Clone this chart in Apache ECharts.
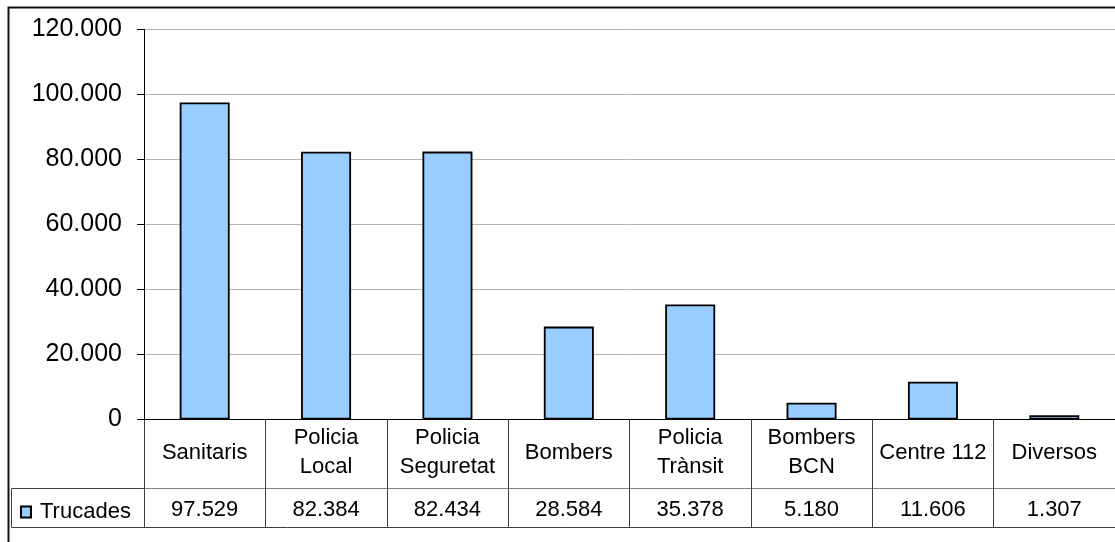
<!DOCTYPE html>
<html>
<head>
<meta charset="utf-8">
<script src="https://cdn.jsdelivr.net/npm/echarts@6/dist/echarts.min.js"></script>
<style>
html,body{margin:0;padding:0;background:#fff;}
#c{width:1115px;height:542px;}
</style>
</head>
<body>
<div id="c"></div>
<script>
const categories = ['Sanitaris', 'Policia\nLocal', 'Policia\nSeguretat', 'Bombers', 'Policia\nTrànsit', 'Bombers\nBCN', 'Centre 112', 'Diversos'];
const seriesName = 'Trucades';
const values = [97529, 82384, 82434, 28584, 35378, 5180, 11606, 1307];
const yMin = 0, yMax = 120000, yStep = 20000;

function fmt(v) {
  return String(v).replace(/\B(?=(\d{3})+(?!\d))/g, '.');
}
const valueLabels = values.map(fmt);

const FONT = '"Liberation Sans", Arial, sans-serif';
const TABLE_LINE = '#404040';
const chart = echarts.init(document.getElementById('c'));
chart.setOption({
  animation: false,
  backgroundColor: '#fff',
  grid: { left: 144, top: 29.5, width: 982, height: 390, containLabel: false },
  legend: {
    data: [seriesName],
    left: 15, top: 496,
    itemWidth: 10, itemHeight: 11,
    icon: 'rect',
    textStyle: { fontFamily: FONT, fontSize: 22, color: '#000', padding: [0, 0, 0, 4] },
    selectedMode: false
  },
  xAxis: [
    {
      type: 'category', data: categories, position: 'bottom',
      axisLine: { show: true, lineStyle: { color: '#000', width: 1 } },
      axisTick: { show: true, length: 69, lineStyle: { color: TABLE_LINE } },
      axisLabel: { fontFamily: FONT, fontSize: 22, color: '#000', lineHeight: 29, verticalAlign: 'middle', margin: 33, interval: 0 },
      splitLine: { show: false }
    },
    {
      type: 'category', data: valueLabels, position: 'bottom', offset: 69,
      axisLine: { show: true, lineStyle: { color: '#808080', width: 1 } },
      axisTick: { show: true, length: 39, lineStyle: { color: TABLE_LINE } },
      axisLabel: { fontFamily: FONT, fontSize: 22, color: '#000', verticalAlign: 'middle', margin: 21, interval: 0 },
      splitLine: { show: false }
    }
  ],
  yAxis: {
    type: 'value', min: yMin, max: yMax, interval: yStep,
    axisLine: { show: true, lineStyle: { color: '#000' } },
    axisTick: { show: true, length: 7, lineStyle: { color: '#000' } },
    axisLabel: { fontFamily: FONT, fontSize: 25, color: '#000', margin: 22, formatter: v => fmt(v) },
    splitLine: { show: true, lineStyle: { color: '#b4b4b4', width: 1 } }
  },
  series: [{
    name: seriesName, type: 'bar', data: values, barWidth: 50, xAxisIndex: 0,
    itemStyle: { color: '#99CCFF', borderColor: '#000', borderWidth: 1.8 }
  }],
  graphic: [
    { type: 'rect', shape: { x: 8.5, y: 7.5, width: 1300, height: 700 }, style: { fill: 'none', stroke: '#111', lineWidth: 2 }, silent: true },
    { type: 'polyline', shape: { points: [[144, 488.5], [11.5, 488.5], [11.5, 527.5], [1200, 527.5]] }, style: { fill: 'none', stroke: TABLE_LINE, lineWidth: 1 }, silent: true }
  ]
});
</script>
</body>
</html>
